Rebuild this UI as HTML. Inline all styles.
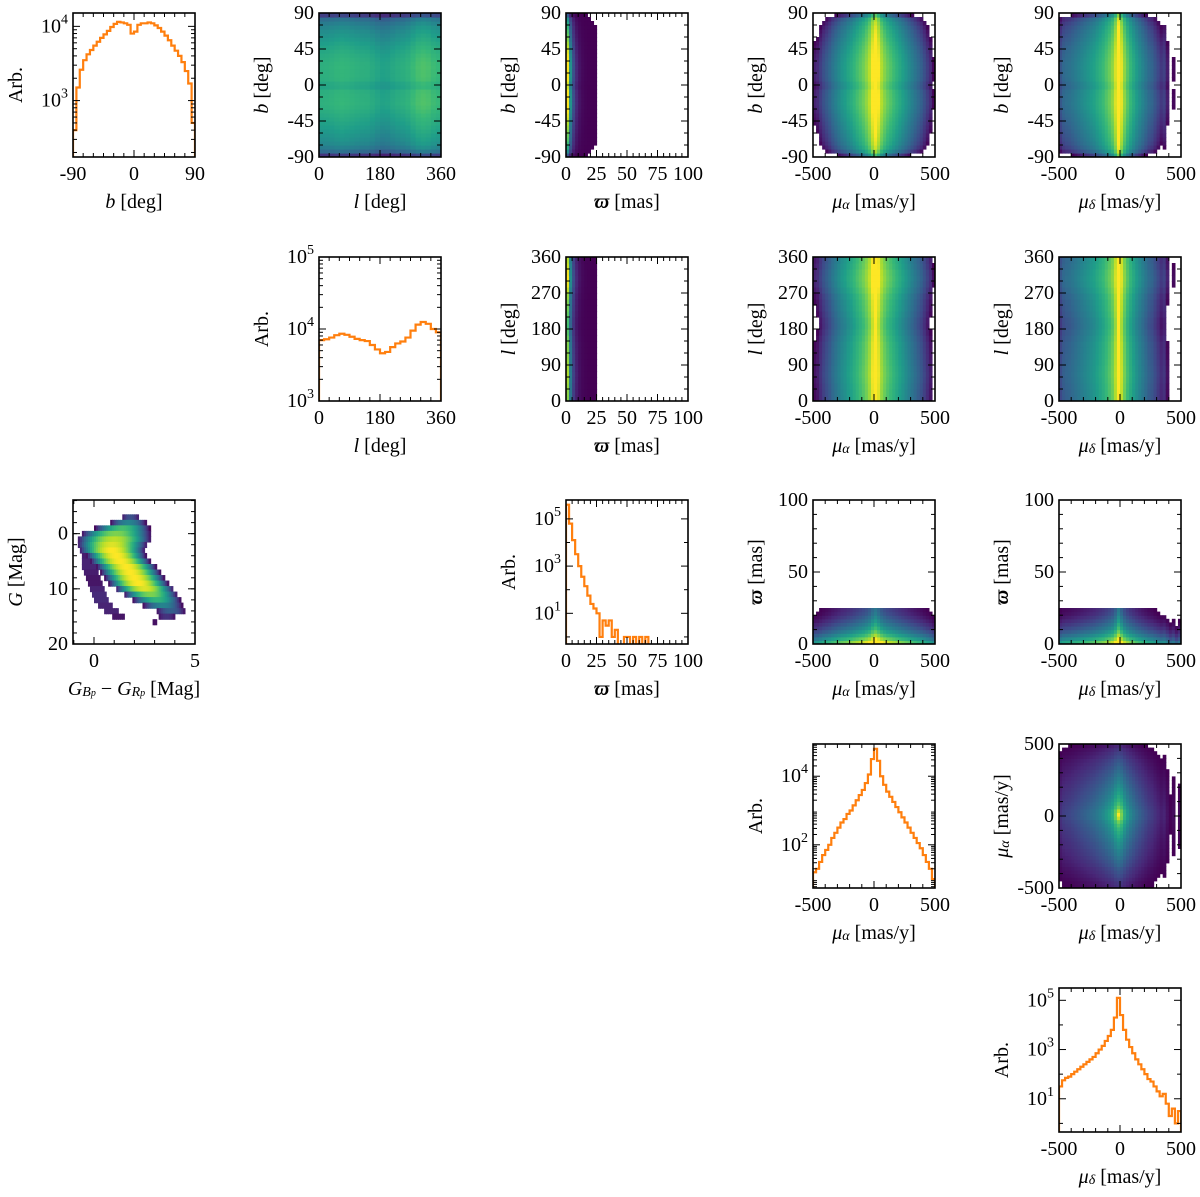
<!DOCTYPE html>
<html><head><meta charset="utf-8"><style>
html,body{margin:0;padding:0;background:#fff;}
svg{display:block;font-family:"Liberation Serif",serif;}
</style></head><body>
<svg id="fig" width="1200" height="1197" xmlns="http://www.w3.org/2000/svg"><defs id="defs"></defs></svg>
<script>
// ---------------- data ----------------
// b histogram, 36 bins of 5 deg from -90
const bCounts=[400,1500,2600,3500,4200,4800,5500,6200,7000,7800,8700,9800,10800,11500,11300,11000,10500,8000,8500,10500,11000,11000,11300,11000,10300,9500,8500,7500,6500,5500,4700,4000,3300,2500,1700,500];
// l histogram, 24 bins of 15 deg from 0
const lCounts=[7000,7200,7600,8200,8600,8300,7800,7300,7000,6800,6000,5200,4600,4800,5600,6300,6700,7600,9500,11500,12500,11800,10000,9000];
// parallax histogram, 40 bins of 2.5 mas from 0
const plxCounts=[400000,63000,12600,3200,1000,355,141,56,25,16,10,1,5,3,5,1,2,0,0,1,1,0,1,0,1,0,1,0,0,0,0,0,0,0,0,0,0,0,0,0];
// proper motion histograms (log10 counts), 40 bins of 25 mas/y from -500
const muALog=[1.2,1.3,1.5,1.7,1.85,2.0,2.2,2.35,2.5,2.65,2.75,2.9,3.0,3.15,3.3,3.45,3.6,3.8,4.05,4.5,4.8,4.45,4.0,3.75,3.55,3.4,3.25,3.1,2.95,2.8,2.65,2.5,2.35,2.2,2.05,1.9,1.7,1.5,1.3,1.0];
const muDLog=[1.5,1.75,1.85,1.9,2.0,2.1,2.2,2.3,2.4,2.5,2.6,2.7,2.85,3.0,3.15,3.35,3.55,3.8,4.3,5.1,4.4,3.8,3.4,3.1,2.85,2.6,2.4,2.2,2.0,1.8,1.7,1.5,1.3,1.1,1.2,0.8,0.3,0.6,0.0,0.5];
// colour-magnitude diagram rows (G from -3 to 16, 1 mag)
const cmdG=[-3,-2,-1,0,1,2,3,4,5,6,7,8,9,10,11,12,13,14,15,16];
const cmdCenter=[1.8,1.7,1.4,1.1,1.0,0.9,0.9,1.1,1.3,1.6,1.8,2.0,2.2,2.5,2.8,3.1,3.4,3.8,3.6,3.0];
const cmdWidth=[0.6,0.9,1.1,1.3,1.3,1.2,1.1,1.0,1.0,1.0,1.0,1.0,1.0,1.0,1.0,1.0,1.0,0.9,0.8,0.5];
const cmdPeak=[0.25,0.45,0.7,0.8,0.9,0.95,1.0,1.0,1.0,1.0,1.0,1.0,1.0,0.95,0.8,0.65,0.45,0.3,0.15,0.05];
const cmdBlueCenter=[0,0,0,0,0,0,0,-0.3,-0.3,-0.3,-0.2,-0.1,0.0,0.1,0.2,0.3,0.5,0.8,1.2,0];
const cmdBluePeak=[0,0,0,0,0,0,0,0.08,0.1,0.1,0.08,0.06,0.06,0.1,0.12,0.12,0.1,0.1,0.06,0];

// ---------------- helpers ----------------
const NS='http://www.w3.org/2000/svg';
const svg=document.getElementById('fig');
const defs=document.getElementById('defs');
function mk(tag,attrs,parent){const e=document.createElementNS(NS,tag);for(const k in attrs)e.setAttribute(k,attrs[k]);(parent||svg).appendChild(e);return e;}
const COLS=[73,319,566,813,1059], ROWS=[13,257,500,744,988], PW=122, PH=144;
const VIR=[[68,1,84],[72,40,120],[62,74,137],[49,104,142],[38,130,142],[31,158,137],[53,183,121],[110,206,88],[181,222,43],[253,231,37]];
function vir(t){t=Math.max(0,Math.min(1,t));const f=t*(VIR.length-1);const i=Math.min(VIR.length-2,Math.floor(f));const u=f-i;const a=VIR[i],b=VIR[i+1];return `rgb(${Math.round(a[0]+(b[0]-a[0])*u)},${Math.round(a[1]+(b[1]-a[1])*u)},${Math.round(a[2]+(b[2]-a[2])*u)})`;}
const lg=a=>a.map(v=>v>0?Math.log10(v):-3);

function makePanel(name,r,c,xr,yr){
  const x0=COLS[c],y0=ROWS[r];
  const g=mk('g',{});
  
  
  const cp=mk('clipPath',{id:'cp-'+name},defs);
  mk('rect',{x:x0,y:y0,width:PW,height:PH},cp);
  const content=mk('g',{'clip-path':`url(#cp-${name})`},g);
  
  
  return {name,g,content,x0,y0,
    sx:v=>x0+(v-xr[0])/(xr[1]-xr[0])*PW,
    sy:v=>y0+PH-(v-yr[0])/(yr[1]-yr[0])*PH};
}
function rich(parent,x,y,segs,size,anchor,rot){
  const t=mk('text',{x:x,y:y,'font-size':size,'text-anchor':anchor,'dominant-baseline':'central',fill:'#000'},parent);
  if(rot)t.setAttribute('transform',`rotate(-90 ${x} ${y})`);
  segs.forEach(s=>{
    const sp=mk('tspan',{},t);
    sp.textContent=s[0];
    if(s[1]==='i')sp.setAttribute('font-style','italic');
    if(s[1]==='b'){sp.setAttribute('font-style','italic');sp.setAttribute('font-weight','bold');}
    if(s[1]==='sub'){sp.setAttribute('font-size',size*0.7);sp.setAttribute('baseline-shift','-25%');sp.setAttribute('font-style','italic');}
    if(s[1]==='subsub'){sp.setAttribute('font-size',size*0.5);sp.setAttribute('baseline-shift','-45%');sp.setAttribute('font-style','italic');}
    if(s[1]==='sup'){sp.setAttribute('font-size',size*0.7);sp.setAttribute('baseline-shift','45%');}
  });
  return t;
}
function axes(p,xMaj,xMin,xLabs,yMaj,yMin,yLabs,xTitle,yTitle){
  const g=p.g,x0=p.x0,y0=p.y0;
  const tk=mk('g',{stroke:'#000','stroke-width':1},g);
  
  
  const tick=(x1,y1,x2,y2)=>mk('line',{x1,y1,x2,y2},tk);
  xMaj.forEach(v=>{const x=p.sx(v);tick(x,y0+PH,x,y0+PH-7);tick(x,y0,x,y0+7);});
  xMin.forEach(v=>{const x=p.sx(v);tick(x,y0+PH,x,y0+PH-4);tick(x,y0,x,y0+4);});
  yMaj.forEach(v=>{const y=p.sy(v);tick(x0,y,x0+7,y);tick(x0+PW,y,x0+PW-7,y);});
  yMin.forEach(v=>{const y=p.sy(v);tick(x0,y,x0+4,y);tick(x0+PW,y,x0+PW-4,y);});
  const fr=mk('rect',{x:x0,y:y0,width:PW,height:PH,fill:'none',stroke:'#000','stroke-width':1.6},g);
  
  
  xLabs.forEach(l=>{const t=rich(g,p.sx(l[0]),y0+PH+17,l[1],20,'middle');
    
    });
  yLabs.forEach(l=>{const t=rich(g,x0-5,p.sy(l[0]),l[1],20,'end');
    
    });
  const xt=rich(g,x0+PW/2,y0+PH+45,xTitle,20,'middle');
  
  
  const yt=rich(g,x0-57,y0+PH/2,yTitle,20,'middle',true);
  
  
}
function stepHist(p,lo,w,logs,floor){
  let d=`M${p.sx(lo)},${p.sy(floor)}`;
  logs.forEach((v,i)=>{const y=p.sy(Math.max(v,floor));d+=`V${y}H${p.sx(lo+(i+1)*w)}`;});
  d+=`V${p.sy(floor)}`;
  const path=mk('path',{d,fill:'none',stroke:'#ff7f0e','stroke-width':2.2,'stroke-linejoin':'miter'},p.content);
  
  
}
// 2D from marginal log counts; mode 'sum' (log product) or 'radial' (euclidean deficit from peaks)
function heat(p,xLo,xW,xLogs,yLo,yW,yLogs,vmin,vmax,gam,mode,minA,minB){
  const pa=Math.max(...xLogs), pb=Math.max(...yLogs);
  xLogs.forEach((a,i)=>{yLogs.forEach((b,j)=>{
    if(minA!==undefined && a<minA) return;
    if(minB!==undefined && b<minB) return;
    const s=mode==='radial'?-Math.hypot(pa-a,pb-b):a+b; if(s<vmin) return;
    let t=Math.pow((s-vmin)/(vmax-vmin),gam||1);
    const x1=p.sx(xLo+i*xW),x2=p.sx(xLo+(i+1)*xW),y1=p.sy(yLo+(j+1)*yW),y2=p.sy(yLo+j*yW);
    const r=mk('rect',{x:Math.min(x1,x2),y:Math.min(y1,y2),width:Math.abs(x2-x1)+0.6,height:Math.abs(y2-y1)+0.6,fill:vir(t)},p.content);
    
    
  });});
}
const range=(a,b,s)=>{const o=[];for(let v=a;v<=b+1e-9;v+=s)o.push(v);return o;};
const logMinor=(a,b)=>{const o=[];for(let d=Math.floor(a);d<=b;d++)for(let k=2;k<10;k++){const v=d+Math.log10(k);if(v>=a&&v<=b)o.push(v);}return o;};
const num=v=>[[String(v),'']];
const pw=e=>[['10',''],[String(e),'sup']];

const bL=lg(bCounts), lL=lg(lCounts), pL=lg(plxCounts);
const T_b=[['b','i'],[' [deg]','']], T_l=[['l','i'],[' [deg]','']], T_p=[['ϖ','b'],[' [mas]','']];
const T_ma=[['μ','i'],['α','sub'],[' [mas/y]','']], T_md=[['μ','i'],['δ','sub'],[' [mas/y]','']], T_arb=[['Arb.','']];
const bTicks=[-90,-45,0,45,90], lTicks=[0,90,180,270,360], pTicks=[0,25,50,75,100], mTicks=[-500,0,500];

// ---------- row 0 ----------
let p=makePanel('hist-b',0,0,[-90,90],[2.24,4.18]);
stepHist(p,-90,5,bL,2.0);
axes(p,[-90,0,90],range(-75,75,15),[-90,0,90].map(v=>[v,num(v)]),[3,4],logMinor(2.24,4.18),[[3,pw(3)],[4,pw(4)]],T_b,T_arb);

p=makePanel('heatmap-l-b',0,1,[0,360],[-90,90]);
heat(p,0,15,lL,-90,5,bL,6.0,9.0);
axes(p,[0,180,360],range(30,330,30),[0,180,360].map(v=>[v,num(v)]),bTicks,range(-75,75,15),bTicks.map(v=>[v,num(v)]),T_l,T_b);

p=makePanel('heatmap-parallax-b',0,2,[0,100],[-90,90]);
heat(p,0,2.5,pL,-90,5,bL,4.7,9.6,4,'sum',1.2);
axes(p,pTicks,range(5,95,5),pTicks.map(v=>[v,num(v)]),bTicks,range(-75,75,15),bTicks.map(v=>[v,num(v)]),T_p,T_b);

p=makePanel('heatmap-mualpha-b',0,3,[-500,500],[-90,90]);
heat(p,-500,25,muALog,-90,5,bL,5.0,8.5,0.9);
axes(p,mTicks,range(-400,400,100),mTicks.map(v=>[v,num(v)]),bTicks,range(-75,75,15),bTicks.map(v=>[v,num(v)]),T_ma,T_b);

p=makePanel('heatmap-mudelta-b',0,4,[-500,500],[-90,90]);
heat(p,-500,25,muDLog,-90,5,bL,4.6,8.6,0.9);
axes(p,mTicks,range(-400,400,100),mTicks.map(v=>[v,num(v)]),bTicks,range(-75,75,15),bTicks.map(v=>[v,num(v)]),T_md,T_b);

// ---------- row 1 ----------
p=makePanel('hist-l',1,1,[0,360],[3,5]);
stepHist(p,0,15,lL,2.5);
axes(p,[0,180,360],range(30,330,30),[0,180,360].map(v=>[v,num(v)]),[3,4,5],logMinor(3,5),[[3,pw(3)],[4,pw(4)],[5,pw(5)]],T_l,T_arb);

p=makePanel('heatmap-parallax-l',1,2,[0,100],[0,360]);
heat(p,0,2.5,pL,0,15,lL,4.7,9.7,4,'sum',1.2);
axes(p,pTicks,range(5,95,5),pTicks.map(v=>[v,num(v)]),lTicks,range(30,330,30),lTicks.map(v=>[v,num(v)]),T_p,T_l);

p=makePanel('heatmap-mualpha-l',1,3,[-500,500],[0,360]);
heat(p,-500,25,muALog,0,15,lL,5.0,8.5,0.9);
axes(p,mTicks,range(-400,400,100),mTicks.map(v=>[v,num(v)]),lTicks,range(30,330,30),lTicks.map(v=>[v,num(v)]),T_ma,T_l);

p=makePanel('heatmap-mudelta-l',1,4,[-500,500],[0,360]);
heat(p,-500,25,muDLog,0,15,lL,4.6,8.7,0.9);
axes(p,mTicks,range(-400,400,100),mTicks.map(v=>[v,num(v)]),lTicks,range(30,330,30),lTicks.map(v=>[v,num(v)]),T_md,T_l);

// ---------- row 2 ----------
p=makePanel('cmd',2,0,[-1.04,5],[20,-6.1]);
cmdG.forEach((G,j)=>{
  for(let c=-1;c<5;c+=0.1){
    const cc=c+0.05;
    const d=(cc-cmdCenter[j])/cmdWidth[j];
    let t=cmdPeak[j]-0.45*d*d;
    const db=cmdBluePeak[j]>0?Math.abs(cc-cmdBlueCenter[j]):9;
    if(t<0.02 && cmdBluePeak[j]>0 && db<0.35) t=cmdBluePeak[j];
    if(t<0.02) continue;
    const x1=p.sx(c),x2=p.sx(c+0.1),y1=p.sy(G-0.5),y2=p.sy(G+0.5);
    const r=mk('rect',{x:x1,y:y1,width:x2-x1+0.6,height:y2-y1+0.6,fill:vir(t)},p.content);
    
    
  }
});
axes(p,[0,5],range(-1,4,1),[[0,num(0)],[5,num(5)]],[0,10,20],range(-6,18,2),[[0,num(0)],[10,num(10)],[20,num(20)]],
  [['G','i'],['B','sub'],['p','subsub'],[' − ',''],['G','i'],['R','sub'],['p','subsub'],[' [Mag]','']],[['G','i'],[' [Mag]','']]);

p=makePanel('hist-parallax',2,2,[0,100],[-0.3,5.8]);
stepHist(p,0,2.5,pL,-1);
axes(p,pTicks,range(5,95,5),pTicks.map(v=>[v,num(v)]),[1,3,5],[0,2,4],[[1,pw(1)],[3,pw(3)],[5,pw(5)]],T_p,T_arb);

p=makePanel('heatmap-mualpha-parallax',2,3,[-500,500],[0,100]);
heat(p,-500,25,muALog,0,2.5,pL,2.6,9.6,1.3,'sum',undefined,1.2);
axes(p,mTicks,range(-400,400,100),mTicks.map(v=>[v,num(v)]),[0,50,100],range(10,90,10),[[0,num(0)],[50,num(50)],[100,num(100)]],T_ma,T_p);

p=makePanel('heatmap-mudelta-parallax',2,4,[-500,500],[0,100]);
heat(p,-500,25,muDLog,0,2.5,pL,2.6,9.9,1.3,'sum',undefined,1.2);
axes(p,mTicks,range(-400,400,100),mTicks.map(v=>[v,num(v)]),[0,50,100],range(10,90,10),[[0,num(0)],[50,num(50)],[100,num(100)]],T_md,T_p);

// ---------- row 3 ----------
p=makePanel('hist-mualpha',3,3,[-500,500],[0.74,4.94]);
stepHist(p,-500,25,muALog,0);
axes(p,mTicks,range(-400,400,100),mTicks.map(v=>[v,num(v)]),[2,4],logMinor(0.74,4.94),[[2,pw(2)],[4,pw(4)]],T_ma,T_arb);

p=makePanel('heatmap-mudelta-mualpha',3,4,[-500,500],[-500,500]);
heat(p,-500,25,muDLog,-500,25,muALog,-5.0,0,1.5,'radial');
axes(p,mTicks,range(-400,400,100),mTicks.map(v=>[v,num(v)]),mTicks,range(-400,400,100),mTicks.map(v=>[v,num(v)]),T_md,T_ma);

// ---------- row 4 ----------
p=makePanel('hist-mudelta',4,4,[-500,500],[-0.35,5.5]);
stepHist(p,-500,25,muDLog,-1);
axes(p,mTicks,range(-400,400,100),mTicks.map(v=>[v,num(v)]),[1,3,5],[0,2,4],[[1,pw(1)],[3,pw(3)],[5,pw(5)]],T_md,T_arb);
</script>
</body></html>
